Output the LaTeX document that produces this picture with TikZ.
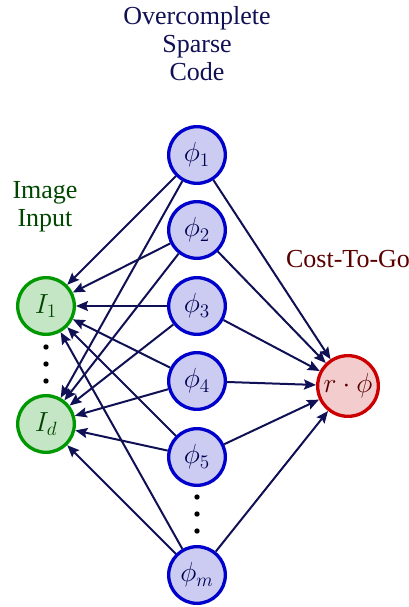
\documentclass[tikz,border=0pt]{standalone}
\usepackage{fontspec}
\setmainfont{Liberation Serif}
\usetikzlibrary{arrows.meta}

\definecolor{codefill}{RGB}{204,204,242}
\definecolor{codedraw}{RGB}{0,0,204}
\definecolor{imgfill}{RGB}{196,230,196}
\definecolor{imgdraw}{RGB}{0,152,0}
\definecolor{imgtext}{RGB}{0,70,0}
\definecolor{costfill}{RGB}{243,205,205}
\definecolor{costdraw}{RGB}{204,0,0}
\definecolor{costtext}{RGB}{90,0,0}
\definecolor{edgecol}{RGB}{16,16,84}
\definecolor{titlecol}{RGB}{16,16,84}

\tikzset{
  unit/.style={circle, line width=2.5pt, minimum size=42.5pt, inner sep=0pt,
    font=\fontsize{21}{23}\selectfont},
  codeunit/.style={unit, fill=codefill, draw=codedraw, text=codedraw!40!black},
  imgunit/.style={unit, fill=imgfill, draw=imgdraw, text=imgtext},
  costunit/.style={unit, minimum size=45.5pt, fill=costfill, draw=costdraw, text=costtext},
  wire/.style={edgecol, line width=1.5pt, -{Stealth[length=9pt, width=7.5pt, inset=1.5pt]}},
  vdot/.style={circle, fill=black, inner sep=0pt, minimum size=4pt},
  caption/.style={align=center, font=\fontsize{19.5}{21}\selectfont},
}

\begin{document}
\begin{tikzpicture}[x=0.75pt, y=-0.75pt]
\useasboundingbox (0,0) rectangle (409,607);
\clip (0,0) rectangle (409,607);

% captions
\node[caption, text=titlecol] (ttl) at (197,44) {Overcomplete\\Sparse\\Code};
\node[caption, text=imgtext] (imgcap) at (45,207) {Image\\Input};
\node[caption, text=costtext] (costcap) at (348,259) {Cost-To-Go};

% sparse code units
\node[codeunit] (p1) at (197,155) {$\phi_1$};
\node[codeunit] (p2) at (197,230) {$\phi_2$};
\node[codeunit] (p3) at (197,306) {$\phi_3$};
\node[codeunit] (p4) at (197,381) {$\phi_4$};
\node[codeunit] (p5) at (197,457) {$\phi_5$};
\node[codeunit] (pm) at (197,575) {$\phi_m$};
\node[vdot] (pd1) at (197,497) {};
\node[vdot] (pd2) at (197,514) {};
\node[vdot] (pd3) at (197,531) {};

% image units
\node[imgunit] (i1) at (46,306) {$I_1$};
\node[imgunit] (id) at (46,424) {$I_d$};
\node[vdot] (id1) at (46,347) {};
\node[vdot] (id2) at (46,364) {};
\node[vdot] (id3) at (46,381) {};

% value unit
\node[costunit] (r) at (348,386) {$r\cdot\phi$};

% reconstruction connections
\foreach \p in {p1,p2,p3,p4,p5,pm}{
  \draw[wire] (\p) -- (i1);
  \draw[wire] (\p) -- (id);
  \draw[wire] (\p) -- (r);
}
\end{tikzpicture}
\end{document}
